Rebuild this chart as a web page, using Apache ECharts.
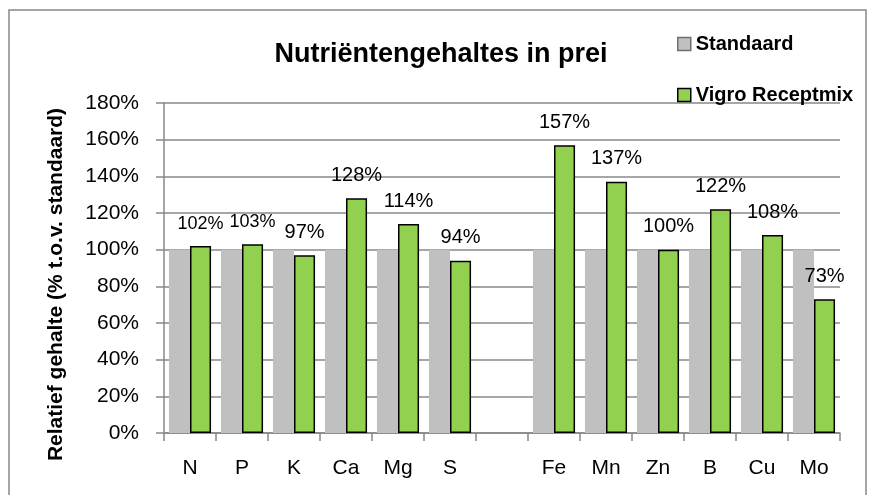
<!DOCTYPE html>
<html>
<head>
<meta charset="utf-8">
<script src="https://cdn.jsdelivr.net/npm/echarts@6/dist/echarts.min.js"></script>
<style>
html,body{margin:0;padding:0;background:#fff;}
#chart{width:874px;height:495px;}
</style>
</head>
<body>
<div id="chart"></div>
<script>
const categories = ['N', 'P', 'K', 'Ca', 'Mg', 'S', '', 'Fe', 'Mn', 'Zn', 'B', 'Cu', 'Mo'];
const standaard = [100, 100, 100, 100, 100, 100, null, 100, 100, 100, 100, 100, 100];
const vigro = [102, 103, 97, 128, 114, 94, null, 157, 137, 100, 122, 108, 73];
const yTicks = [0, 20, 40, 60, 80, 100, 120, 140, 160, 180];

const FONT = 'Liberation Sans, Arial, sans-serif';
const smallLabelIdx = [0, 1];

const chart = echarts.init(document.getElementById('chart'));
chart.setOption({
  animation: false,
  backgroundColor: '#fff',
  title: {
    text: 'Nutriëntengehaltes in prei',
    left: 436,
    top: 36,
    textAlign: 'center',
    textStyle: { fontFamily: FONT, fontWeight: 'bold', fontSize: 27, color: '#000' }
  },
  legend: {
    orient: 'vertical',
    left: 672,
    top: 29,
    itemGap: 31,
    itemWidth: 13,
    itemHeight: 13,
    icon: 'rect',
    textStyle: { fontFamily: FONT, fontWeight: 'bold', fontSize: 20, color: '#000' },
    data: [
      { name: 'Standaard', itemStyle: { color: '#c0c0c0', borderColor: '#6f6f6f', borderWidth: 1.5 } },
      { name: 'Vigro Receptmix', itemStyle: { color: '#92d050', borderColor: '#000', borderWidth: 1.5 } }
    ]
  },
  grid: { left: 164, right: 34, top: 103, bottom: 62, containLabel: false },
  xAxis: {
    type: 'category',
    data: categories,
    axisLine: { lineStyle: { color: '#888', width: 1.5 } },
    axisTick: { show: true, length: 8, alignWithLabel: false, lineStyle: { color: '#888', width: 1.5 } },
    axisLabel: { fontFamily: FONT, fontSize: 21, color: '#000', margin: 25, interval: 0 }
  },
  yAxis: {
    type: 'value',
    min: yTicks[0],
    max: yTicks[yTicks.length - 1],
    interval: 20,
    name: 'Relatief gehalte (% t.o.v. standaard)',
    nameLocation: 'middle',
    nameGap: 97,
    nameRotate: 90,
    nameTextStyle: { fontFamily: FONT, fontWeight: 'bold', fontSize: 21, color: '#000', padding: [0, 33, 0, 0] },
    axisLine: { show: true, lineStyle: { color: '#888', width: 1.5 } },
    axisTick: { show: true, length: 8, lineStyle: { color: '#888', width: 1.5 } },
    axisLabel: { fontFamily: FONT, fontSize: 21, color: '#000', margin: 25, formatter: '{value}%' },
    splitLine: { show: true, lineStyle: { color: '#888', width: 1.5 } }
  },
  series: [
    {
      name: 'Standaard',
      type: 'bar',
      data: standaard,
      barGap: '0%',
      barCategoryGap: '19%',
      itemStyle: { color: '#c0c0c0' }
    },
    {
      name: 'Vigro Receptmix',
      type: 'bar',
      data: vigro.map((v, i) => smallLabelIdx.includes(i) ? { value: v, label: { fontSize: 18 } } : v),
      barGap: '0%',
      barCategoryGap: '19%',
      itemStyle: { color: '#92d050', borderColor: '#000', borderWidth: 1.5 },
      label: {
        show: true,
        position: 'top',
        distance: 13,
        formatter: '{c}%',
        fontFamily: FONT,
        fontSize: 20,
        color: '#000'
      }
    }
  ],
  graphic: [
    {
      type: 'rect',
      shape: { x: 9, y: 10, width: 857, height: 495 },
      style: { fill: 'none', stroke: '#888', lineWidth: 1.5 },
      silent: true
    }
  ]
});
</script>
</body>
</html>
